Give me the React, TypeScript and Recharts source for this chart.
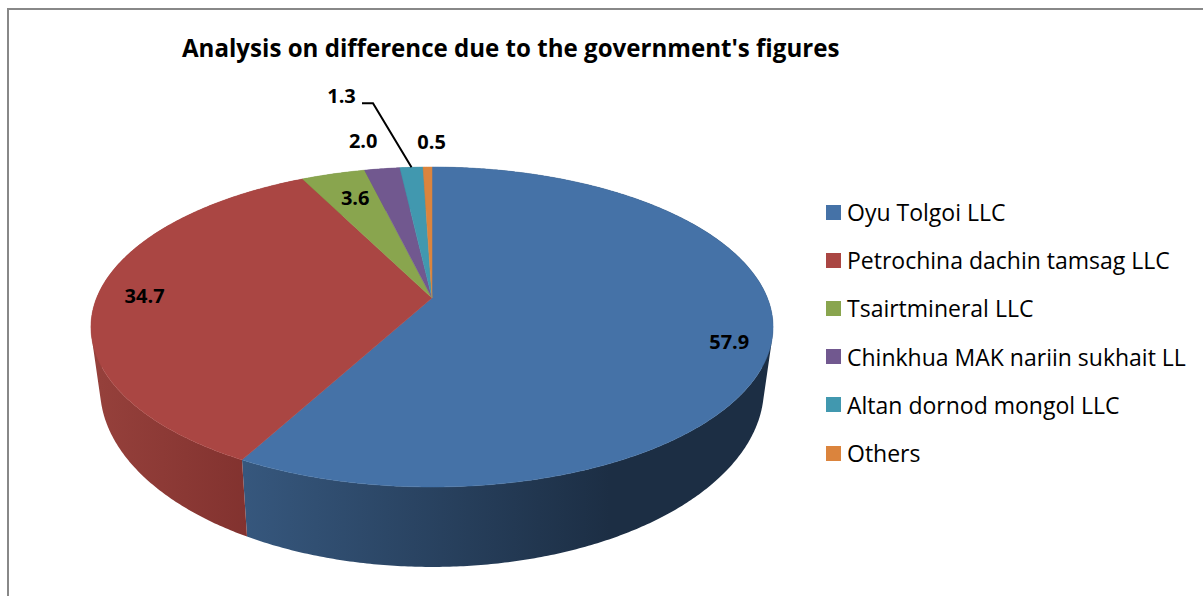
import { PieChart, Pie, Legend } from 'recharts'

const companies = [
    'Oyu Tolgoi LLC',
    'Petrochina dachin tamsag LLC',
    'Tsairtmineral LLC',
    'Chinkhua MAK nariin sukhait LL',
    'Altan dornod mongol LLC',
    'Others',
]
const shares = [57.9, 34.7, 3.6, 2.0, 1.3, 0.5]
const topColors = ['#4572A7', '#AA4643', '#89A54E', '#71588F', '#4198AF', '#DB843D']
// left / right colour of the side wall
const wallStops = [
    ['#36577D', '#1C2E44'],
    ['#95403B', '#82322F'],
    ['#6A803B', '#6A803B'],
    ['#57426F', '#57426F'],
    ['#307387', '#307387'],
    ['#AA652E', '#AA652E'],
]
// label offset from the rim point at the middle of each slice
const labelOffsets = [
    [-43, 4],
    [47, 0],
    [22, 24],
    [-19, -28],
    [-70, -72],
    [4, -26],
]

const tableData = companies.map((name, i) => ({ name, value: shares[i], fill: topColors[i] }))

const FONT = '"Open Sans", "Noto Sans", sans-serif'
const RAD = Math.PI / 180
const PERSPECTIVE = -0.18125

// circle -> tilted ellipse, the apex sits above the ellipse centre
function topPoint(cx: number, cy: number, r: number, angle: number) {
    const u = Math.cos(angle * RAD)
    const v = -Math.sin(angle * RAD)
    const den = 1 + PERSPECTIVE * v
    return [cx + (r * u) / den, (cy + 0.3003 * r * v) / den]
}

function bottomPoint(cx: number, cy: number, r: number, angle: number) {
    const u = Math.cos(angle * RAD)
    const v = -Math.sin(angle * RAD)
    const den = 1 + PERSPECTIVE * v
    return [cx + (0.9735 * r * u) / den, (cy + 0.1714 * r + 0.3241 * r * v) / den]
}

function arcPoints(fn: typeof topPoint, p: any) {
    const pts: number[][] = []
    const steps = Math.max(2, Math.ceil(Math.abs(p.endAngle - p.startAngle) * 2))
    for (let i = 0; i <= steps; i++) {
        const a = p.startAngle + ((p.endAngle - p.startAngle) * i) / steps
        pts.push(fn(p.cx, p.cy, p.outerRadius, a))
    }
    return pts
}

const toPath = (pts: number[][]) =>
    pts.map((q, i) => `${i ? 'L' : 'M'}${q[0].toFixed(2)},${q[1].toFixed(2)}`).join('') + 'Z'

function area(pts: number[][]) {
    let s = 0
    pts.forEach((q, i) => {
        const n = pts[(i + 1) % pts.length]
        s += q[0] * n[1] - n[0] * q[1]
    })
    return s
}

function TopFace(p: any) {
    const pts = [[p.cx, p.cy], ...arcPoints(topPoint, p)]
    return <path d={toPath(pts)} fill={p.fill} stroke={p.fill} strokeWidth={0.5} />
}

function WallFace(p: any) {
    const upper = arcPoints(topPoint, p)
    const lower = arcPoints(bottomPoint, p)
    // quads with one winding, the two rims cross near the sides
    let d = ''
    for (let i = 0; i < upper.length - 1; i++) {
        const quad = [upper[i], upper[i + 1], lower[i + 1], lower[i]]
        d += toPath(area(quad) < 0 ? quad.reverse() : quad)
    }
    const stops = wallStops[p.index]
    const id = `wall-${p.index}`
    const range = p.index === 0 ? [245, 610] : [100, 248]
    return (
        <g>
            <linearGradient id={id} gradientUnits="userSpaceOnUse" x1={range[0]} x2={range[1]} y1={0} y2={0}>
                <stop offset="0%" stopColor={stops[0]} />
                <stop offset="100%" stopColor={stops[1]} />
            </linearGradient>
            <path d={d} fill={`url(#${id})`} />
        </g>
    )
}

function SliceLabel(p: any) {
    const rim = topPoint(p.cx, p.cy, p.outerRadius, p.midAngle)
    const off = labelOffsets[p.index]
    return (
        <g>
            {p.index === 4 && (
                <polyline
                    points={`${rim[0]},${rim[1]} ${rim[0] - 38.5},${rim[1] - 64} ${rim[0] - 49.5},${rim[1] - 64}`}
                    fill="none"
                    stroke="#000"
                    strokeWidth={2}
                />
            )}
            <text
                x={rim[0] + off[0]}
                y={rim[1] + off[1]}
                textAnchor="middle"
                dominantBaseline="central"
                fontFamily={FONT}
                fontWeight={700}
                fontSize={20}
                fill="#000"
            >
                {p.value.toFixed(1)}
            </text>
        </g>
    )
}

function LegendList({ payload }: any) {
    const items = companies.map((name) => (payload || []).find((e: any) => e.value === name)).filter(Boolean)
    return (
        <div style={{ fontFamily: FONT, fontSize: 23, color: '#000' }}>
            {items.map((item: any) => (
                <div key={item.value} style={{ height: 48.2, display: 'flex', alignItems: 'center', whiteSpace: 'nowrap' }}>
                    <span style={{ width: 15, height: 15, background: item.color, marginRight: 6, flex: 'none' }} />
                    {item.value}
                </div>
            ))}
        </div>
    )
}

export default function App() {
    return (
        <div style={{ position: 'absolute', left: 0, top: 0, width: 1203, height: 596, overflow: 'hidden', background: '#fff' }}>
            <div style={{ position: 'absolute', left: 7, top: 8, width: 1300, height: 700, border: '2px solid #888' }} />
            <div
                style={{
                    position: 'absolute',
                    left: 182,
                    top: 32,
                    fontFamily: FONT,
                    fontWeight: 700,
                    fontSize: 24.1,
                    lineHeight: '32px',
                    whiteSpace: 'nowrap',
                    color: '#000',
                }}
            >
                Analysis on difference due to the government's figures
            </div>
            <div style={{ position: 'absolute', left: 0, top: 0 }}>
                <PieChart width={1203} height={596} margin={{ top: 0, right: 0, bottom: 0, left: 0 }}>
                    <Pie
                        data={tableData}
                        dataKey="value"
                        nameKey="name"
                        cx={432}
                        cy={298}
                        outerRadius={335.4}
                        startAngle={90}
                        endAngle={-270}
                        shape={WallFace}
                        legendType="none"
                        isAnimationActive={false}
                    />
                    <Pie
                        data={tableData}
                        dataKey="value"
                        nameKey="name"
                        cx={432}
                        cy={298}
                        outerRadius={335.4}
                        startAngle={90}
                        endAngle={-270}
                        shape={TopFace}
                        label={SliceLabel}
                        labelLine={false}
                        isAnimationActive={false}
                    />
                    <Legend
                        layout="vertical"
                        align="right"
                        verticalAlign="top"
                        itemSorter={null}
                        content={LegendList}
                        wrapperStyle={{ left: 826, top: 188, width: 377, right: 'auto' }}
                    />
                </PieChart>
            </div>
        </div>
    )
}
